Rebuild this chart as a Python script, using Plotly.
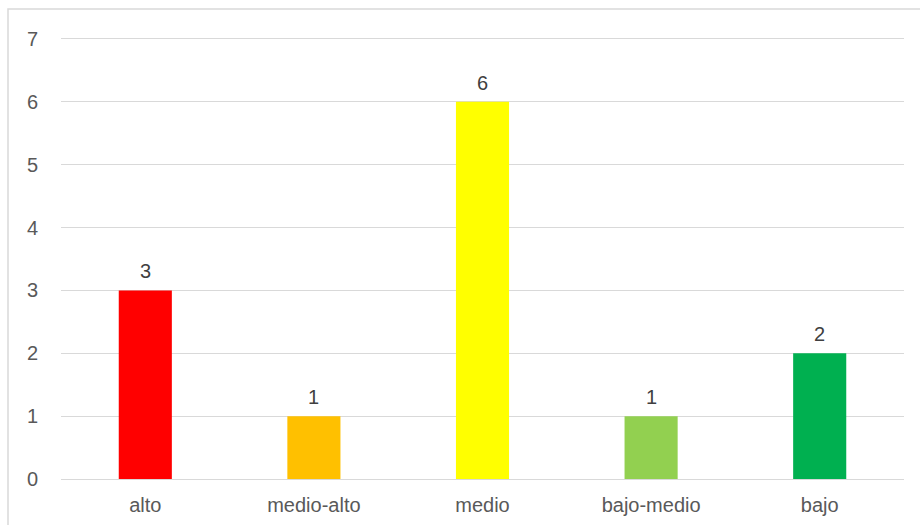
import plotly.graph_objects as go

categories = ["alto", "medio-alto", "medio", "bajo-medio", "bajo"]
counts = [3, 1, 6, 1, 2]
bar_colors = ["#FF0000", "#FFC000", "#FFFF00", "#92D050", "#00B050"]
y_ticks = [0, 1, 2, 3, 4, 5, 6, 7]

W, H = 920, 525
ML, MR, MT, MB = 61, 16, 37, 46
FONT = "Liberation Sans, Arial, sans-serif"

fig = go.Figure(
    go.Bar(
        x=categories,
        y=counts,
        marker=dict(color=bar_colors, line=dict(width=0)),
        width=0.315,
        hoverinfo="x+y",
    )
)

# value labels above each bar
for cat, val in zip(categories, counts):
    fig.add_annotation(
        x=cat, y=val, text=str(val), showarrow=False,
        yanchor="bottom", yshift=6,
        font=dict(family=FONT, size=20, color="#404040"),
    )

# chart frame
pw, ph = W - ML - MR, H - MT - MB
fig.add_shape(
    type="rect", xref="paper", yref="paper",
    x0=(8 - ML) / pw, x1=(W + 5 - ML) / pw,
    y0=-(H + 5 - MT - ph) / ph, y1=1 + (MT - 9) / ph,
    line=dict(color="#D9D9D9", width=1.5), fillcolor="rgba(0,0,0,0)",
    layer="below",
)

fig.update_layout(
    width=W, height=H,
    margin=dict(l=ML, r=MR, t=MT, b=MB),
    paper_bgcolor="white", plot_bgcolor="white",
    font=dict(family=FONT, size=20, color="#595959"),
    showlegend=False,
    bargap=0.685,
    xaxis=dict(
        showgrid=False, showline=False, zeroline=False,
        ticks="", ticklabelstandoff=12, automargin=False,
        tickfont=dict(size=20, color="#595959"),
    ),
    yaxis=dict(
        range=[0, 7.03], tickvals=y_ticks,
        showgrid=True, gridcolor="#D9D9D9", gridwidth=1.3,
        zeroline=True, zerolinecolor="#D9D9D9", zerolinewidth=1.3,
        showline=False, ticks="", ticklabelstandoff=22, automargin=False,
        tickfont=dict(size=20, color="#595959"),
    ),
)

fig.write_html("out.html")
